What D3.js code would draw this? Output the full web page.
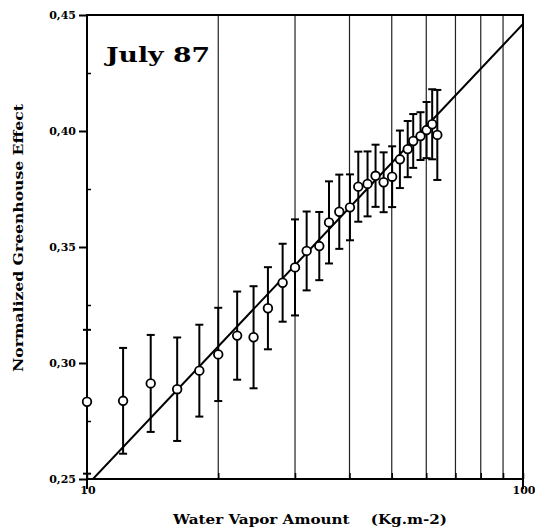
<!DOCTYPE html>
<html>
<head>
<meta charset="utf-8">
<script src="https://cdn.jsdelivr.net/npm/d3@7"></script>
<style>
  body { margin: 0; background: #fff; }
  text { font-family: "DejaVu Serif", "Liberation Serif", serif; font-weight: bold; fill: #000; }
</style>
</head>
<body>
<div id="chart"></div>
<script>
(function(){
    var width = 535;
    var height = 528;

    // water vapor amount (Kg.m-2), normalized greenhouse effect, and error half-width
    var vapor = [10, 12.1, 14.0, 16.1, 18.1, 20.0, 22.1, 24.1, 26.0, 28.1,
                 30.0, 31.9, 34.1, 35.9, 37.9, 40.1, 41.9, 44.0, 45.9, 47.9,
                 50.1, 52.2, 54.4, 56.0, 58.2, 60.1, 61.9, 63.6];
    var effect = [0.2833, 0.2837, 0.2912, 0.2887, 0.2967, 0.3037, 0.3118, 0.3111, 0.3236, 0.3346,
                  0.3412, 0.3483, 0.3504, 0.3606, 0.3652, 0.3671, 0.3760, 0.3772, 0.3807, 0.3779,
                  0.3803, 0.3878, 0.3922, 0.3957, 0.3978, 0.4004, 0.4029, 0.3983];
    var errorBar = [0.0310, 0.0228, 0.0209, 0.0223, 0.0198, 0.0201, 0.0190, 0.0220, 0.0177, 0.0168,
                    0.0207, 0.0170, 0.0147, 0.0177, 0.0160, 0.0142, 0.0151, 0.0140, 0.0134, 0.0129,
                    0.0131, 0.0124, 0.0121, 0.0116, 0.0103, 0.0121, 0.0151, 0.0194];

    // regression line end points
    var fitX = [10, 100];
    var fitY = [0.2473, 0.4461];

    var yTicks = [0.25, 0.30, 0.35, 0.40, 0.45];
    var yMinorTicks = [0.275, 0.325, 0.375, 0.425];
    var xTicks = [10, 20, 30, 40, 50, 60, 70, 80, 90, 100];
    var xLabels = [10, 100];

    var datapoints = vapor.map(function(v, i){
        return { x: v, y: effect[i], e: errorBar[i] };
    });

    var left = 87, right = 523, top = 15, bottom = 479;

    var xScale = d3.scaleLog().domain([10, 100]).range([left, right]);
    var yScale = d3.scaleLinear().domain([0.25, 0.45]).range([bottom, top]);

    var svg = d3.select("#chart")
        .append("svg")
        .attr("width", width)
        .attr("height", height);

    svg.append("defs").append("clipPath")
        .attr("id", "plot-clip")
        .append("rect")
        .attr("x", left)
        .attr("y", top)
        .attr("width", right - left)
        .attr("height", bottom - top);

    // vertical grid lines at the log decades
    svg.append("g")
        .selectAll("line")
        .data(xTicks.slice(1, -1))
        .enter().append("line")
        .attr("x1", function(d){ return xScale(d) })
        .attr("x2", function(d){ return xScale(d) })
        .attr("y1", top)
        .attr("y2", bottom)
        .attr("stroke", "#222")
        .attr("stroke-width", 1.2);

    // y axis
    var fmt = d3.format(".2f");
    var yAxis = svg.append("g")
        .attr("transform", "translate(" + left + ",0)")
        .call(d3.axisLeft(yScale)
            .tickValues(yTicks)
            .tickSize(8)
            .tickPadding(3)
            .tickFormat(function(d){ return fmt(d).replace(".", ",") }));
    yAxis.select(".domain").remove();
    yAxis.selectAll(".tick line").attr("stroke", "#000").attr("stroke-width", 2);
    yAxis.selectAll("text")
        .style("font-size", "11px")
        .style("font-family", "'DejaVu Serif', serif")
        .style("font-weight", "bold");

    var yMinor = svg.append("g")
        .attr("transform", "translate(" + left + ",0)")
        .call(d3.axisLeft(yScale)
            .tickValues(yMinorTicks)
            .tickSize(-4)
            .tickFormat(""));
    yMinor.select(".domain").remove();
    yMinor.selectAll(".tick line").attr("stroke", "#000").attr("stroke-width", 1.5);

    // x axis ticks (inward) and outer end ticks
    var xAxis = svg.append("g")
        .attr("transform", "translate(0," + bottom + ")")
        .call(d3.axisBottom(xScale)
            .tickValues(xTicks)
            .tickSize(-6)
            .tickFormat(""));
    xAxis.select(".domain").remove();
    xAxis.selectAll(".tick line").attr("stroke", "#000").attr("stroke-width", 1.5);

    svg.append("g")
        .selectAll("line")
        .data(xLabels)
        .enter().append("line")
        .attr("x1", function(d){ return xScale(d) })
        .attr("x2", function(d){ return xScale(d) })
        .attr("y1", bottom)
        .attr("y2", bottom + 10)
        .attr("stroke", "#000")
        .attr("stroke-width", 2);

    svg.append("g")
        .selectAll("text")
        .data(xLabels)
        .enter().append("text")
        .attr("x", function(d){ return xScale(d) + 1 })
        .attr("y", bottom + 15)
        .attr("text-anchor", "middle")
        .style("font-size", "11px")
        .text(function(d){ return d });

    // frame
    svg.append("rect")
        .attr("x", left)
        .attr("y", top)
        .attr("width", right - left)
        .attr("height", bottom - top)
        .attr("fill", "none")
        .attr("stroke", "#000")
        .attr("stroke-width", 2);

    // regression line
    svg.append("path")
        .datum(fitX.map(function(d, i){ return [d, fitY[i]] }))
        .attr("clip-path", "url(#plot-clip)")
        .attr("fill", "none")
        .attr("stroke", "#000")
        .attr("stroke-width", 2)
        .attr("d", d3.line()
            .x(function(d){ return xScale(d[0]) })
            .y(function(d){ return yScale(d[1]) }));

    // error bars
    var bars = svg.append("g")
        .selectAll("g")
        .data(datapoints)
        .enter().append("g")
        .attr("stroke", "#000")
        .attr("stroke-width", 2);

    bars.append("line")
        .attr("x1", function(d){ return xScale(d.x) })
        .attr("x2", function(d){ return xScale(d.x) })
        .attr("y1", function(d){ return yScale(d.y + d.e) })
        .attr("y2", function(d){ return yScale(d.y - d.e) });

    bars.append("line")
        .attr("x1", function(d){ return xScale(d.x) - 4 })
        .attr("x2", function(d){ return xScale(d.x) + 4 })
        .attr("y1", function(d){ return yScale(d.y + d.e) })
        .attr("y2", function(d){ return yScale(d.y + d.e) });

    bars.append("line")
        .attr("x1", function(d){ return xScale(d.x) - 4 })
        .attr("x2", function(d){ return xScale(d.x) + 4 })
        .attr("y1", function(d){ return yScale(d.y - d.e) })
        .attr("y2", function(d){ return yScale(d.y - d.e) });

    // points
    svg.append("g")
        .selectAll("circle")
        .data(datapoints)
        .enter().append("circle")
        .attr("cx", function(d){ return xScale(d.x) })
        .attr("cy", function(d){ return yScale(d.y) })
        .attr("r", 4.3)
        .attr("fill", "#fff")
        .attr("stroke", "#000")
        .attr("stroke-width", 1.8);

    // titles
    svg.append("text")
        .attr("x", 106)
        .attr("y", 62)
        .attr("textLength", 104)
        .attr("lengthAdjust", "spacingAndGlyphs")
        .style("font-size", "21px")
        .text("July 87");

    svg.append("text")
        .attr("x", 173)
        .attr("y", 524)
        .attr("textLength", 274)
        .attr("lengthAdjust", "spacingAndGlyphs")
        .attr("xml:space", "preserve")
        .style("font-size", "13px")
        .text("Water Vapor Amount    (Kg.m-2)");

    svg.append("text")
        .attr("transform", "translate(23,238) rotate(-90)")
        .attr("text-anchor", "middle")
        .attr("textLength", 268)
        .attr("lengthAdjust", "spacingAndGlyphs")
        .style("font-size", "13px")
        .text("Normalized Greenhouse Effect");
})();
</script>
</body>
</html>
